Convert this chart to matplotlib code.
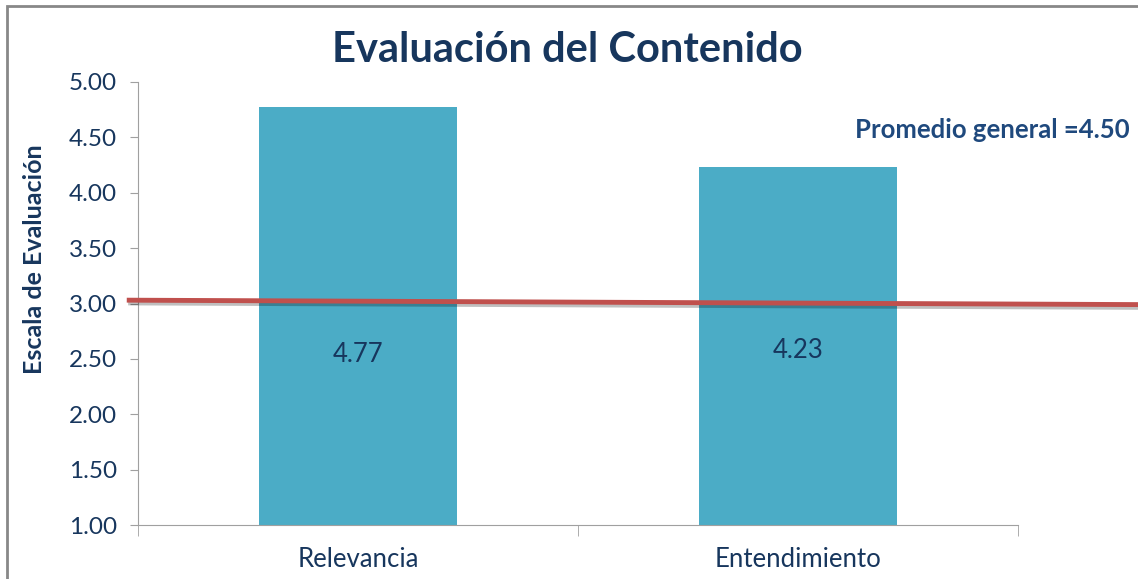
import matplotlib.pyplot as plt
import matplotlib.patheffects as pe
from matplotlib.patches import Rectangle

# Datos del grafico
categorias = ['Relevancia', 'Entendimiento']
valores = [4.77, 4.23]
pos_etiquetas = [2.54, 2.58]     # altura donde se ven los valores dentro de la barra
linea_x = [-0.52, 1.78]          # linea roja de referencia
linea_y = [3.03, 2.99]
yticks = [1.0, 1.5, 2.0, 2.5, 3.0, 3.5, 4.0, 4.5, 5.0]

azul_oscuro = '#17365D'
plt.rcParams['font.family'] = ['Lato', 'DejaVu Sans']

fig = plt.figure(figsize=(11.38, 5.79), dpi=100)
ax = fig.add_axes([138 / 1138, 1 - 525 / 579, 880 / 1138, 443 / 579])

x = range(len(categorias))
ax.bar(x, valores, width=0.45, color='#4BACC6', bottom=0, zorder=2)
for i, (v, yp) in enumerate(zip(valores, pos_etiquetas)):
    ax.text(i, yp, f'{v:.2f}', ha='center', va='center', fontsize=18.5,
            color=azul_oscuro, zorder=4)

ax.set_xlim(-0.5, 1.5)
ax.set_ylim(1, 5)
ax.set_yticks(yticks)
ax.set_yticklabels([f'{t:.2f}' for t in yticks], fontsize=17.5, color=azul_oscuro)
ax.set_xticks(x)
ax.set_xticklabels(categorias, fontsize=18.5, color=azul_oscuro)
ax.set_xticks([-0.5, 0.5, 1.5], minor=True)
ax.tick_params(axis='x', which='major', length=0, pad=16)
ax.tick_params(axis='x', which='minor', length=8, color='#A0A0A0', direction='out')
ax.tick_params(axis='y', length=6, color='#A0A0A0', pad=9)
for s in ['top', 'right']:
    ax.spines[s].set_visible(False)
ax.spines['left'].set_color('#A0A0A0')
ax.spines['bottom'].set_color('#A0A0A0')

ax.plot(linea_x, linea_y, color='#C0504D', lw=3.5, clip_on=False, zorder=3,
        path_effects=[pe.SimpleLineShadow(offset=(1, -2), alpha=0.25), pe.Normal()])

ax.set_ylabel('Escala de Evaluación', fontsize=18, fontweight='bold',
              color=azul_oscuro)
ax.yaxis.set_label_coords(-92 / 880, 0.6)

fig.text(567 / 1138, 1 - 50 / 579, 'Evaluación del Contenido', ha='center',
         va='center', fontsize=30, fontweight='bold', color=azul_oscuro)
fig.text(1130 / 1138, 1 - 130 / 579, 'Promedio general =4.50', ha='right',
         va='center', fontsize=18.5, fontweight='bold', color='#1F497D')

# marco del grafico
fig.add_artist(Rectangle((7 / 1138, -0.1), 1.2, 1 - 6 / 579 + 0.1,
                         transform=fig.transFigure, fill=False,
                         edgecolor='#888888', lw=2))

fig.savefig('out.png', dpi=100)
